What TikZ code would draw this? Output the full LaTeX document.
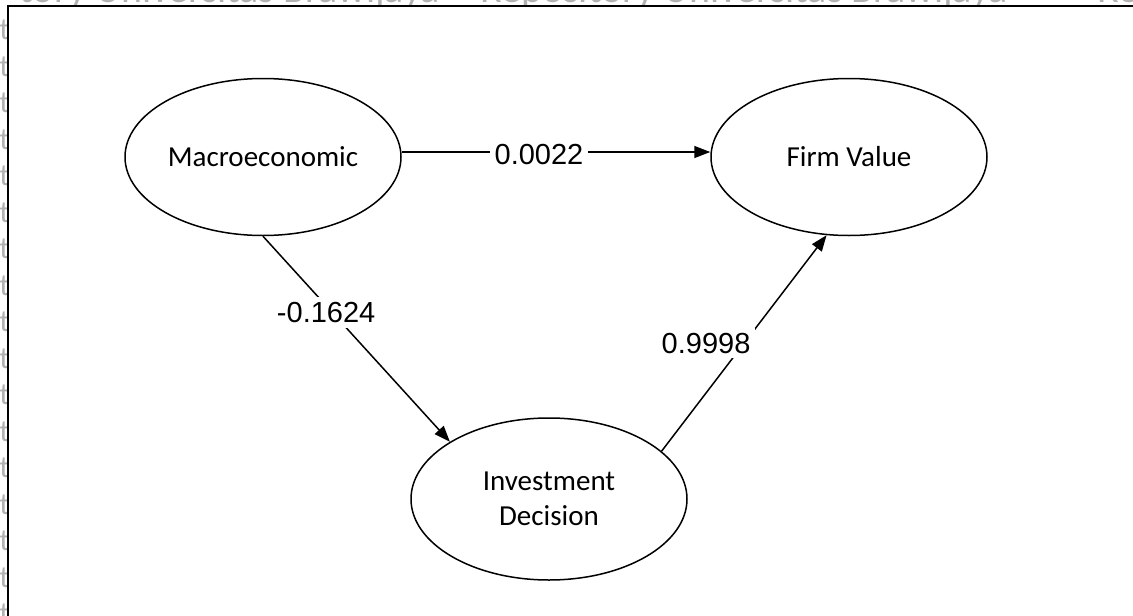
\documentclass[tikz,border=0pt]{standalone}
\usepackage{fontspec}
\setmainfont{Carlito}
\newfontfamily\numfont{Liberation Sans}
\usetikzlibrary{arrows.meta,shapes.geometric}

\tikzset{
  latent/.style={ellipse, draw, line width=1.5pt, fill=white,
    minimum width=276pt, minimum height=157pt, inner sep=0pt,
    align=center, font=\fontsize{29}{35}\selectfont},
  path/.style={line width=1.5pt, -{Triangle[length=16pt,width=12pt]}},
  coef/.style={fill=white, inner sep=5pt, font=\numfont\fontsize{29}{35}\selectfont},
  wm/.style={text=black!30, inner sep=0pt, font=\fontsize{40}{44}\selectfont},
  wmside/.style={text=black!30, inner sep=0pt, font=\fontsize{31}{36}\selectfont},
}

\begin{document}
\begin{tikzpicture}[x=1pt,y=-1pt]
\useasboundingbox (0,0) rectangle (1133,616);

% repository watermark behind the frame
\begin{scope}
  \clip (0,0) rectangle (1133,616);
  \node[wm, anchor=base east] (wmA) at (440,2) {tory Universitas Brawijaya};
  \node[wm, anchor=base west] (wmB) at (480,2) {Repository Universitas Brawijaya};
  \node[wm, anchor=base west] (wmC) at (1097,2) {Re};
  \foreach \k in {1,...,17}
    \node[wmside, anchor=base east] at (10,{3+36.5*\k}) {Universit};
  % figure frame
  \draw[line width=2pt, fill=white] (8,6) rectangle (1150,630);
\end{scope}

% constructs
\node[latent] (macro) at (263,157) {Macroeconomic};
\node[latent] (firm) at (849,157) {Firm Value};
\node[latent, minimum height=162pt] (invest) at (549,499) {Investment\\Decision};

% structural paths with coefficients
\draw[path] ([yshift=5pt]macro.east) -- ([yshift=5pt]firm.west)
  node[coef, pos=0.445, yshift=-3pt] (c1) {0.0022};
\draw[path] (macro.south) -- (invest.150.6)
  node[coef, pos=0.37, xshift=-6pt] (c2) {-0.1624};
\draw[path] (invest.23.4) -- (firm.254)
  node[coef, pos=0.5, xshift=-38pt] (c3) {0.9998};

\end{tikzpicture}
\end{document}
